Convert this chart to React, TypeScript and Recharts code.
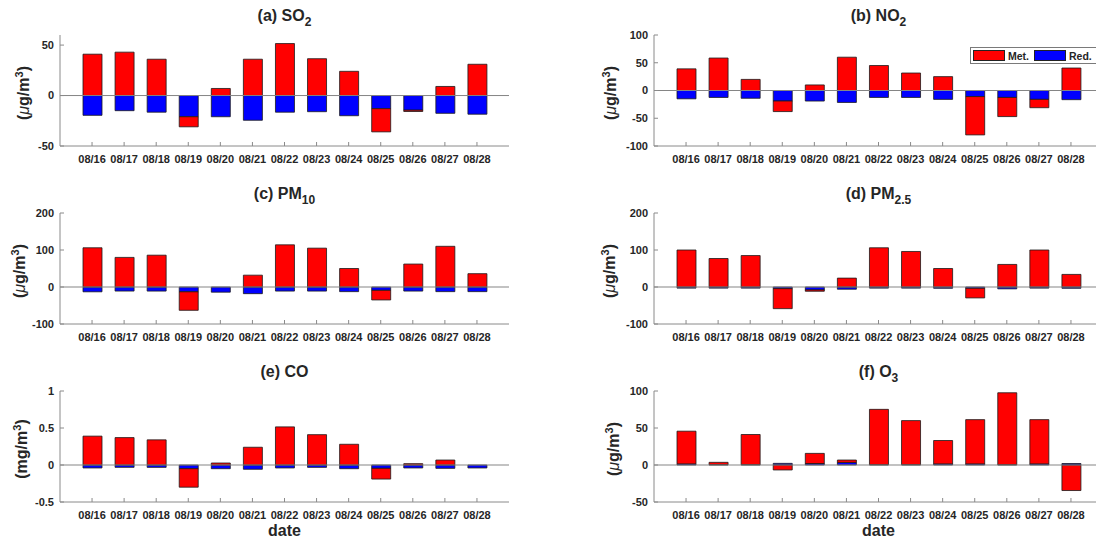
import React from 'react';
import { BarChart, Bar, XAxis, YAxis, ReferenceLine } from 'recharts';

const dates = ['08/16', '08/17', '08/18', '08/19', '08/20', '08/21', '08/22', '08/23', '08/24', '08/25', '08/26', '08/27', '08/28'];

// Met. = meteorology contribution, Red. = emission reduction contribution
const so2Met = [41, 43, 36, -10, 7, 36, 51.5, 36.5, 24, -23, -1.3, 9, 31];
const so2Red = [-19.6, -15, -16.5, -21, -21, -24.5, -16.5, -16, -20, -13, -14.5, -17.6, -18.5];

const no2Met = [39, 58.5, 20, -19, 10, 60, 45, 31.5, 25, -69, -34.5, -15, 40.5];
const no2Red = [-15, -12.5, -14, -19, -19, -21.5, -12.5, -12.5, -16, -11, -12.5, -16, -16.5];

const pm10Met = [106, 80, 86, -50, 0, 32, 114, 105, 50, -26, 62, 110, 36];
const pm10Red = [-13, -11, -11, -13, -14, -18, -11, -11, -12.5, -9, -11, -12.5, -12.5];

const pm25Met = [100, 77, 85, -54, -3.5, 24, 106, 96, 50, -26, 61, 100, 34];
const pm25Red = [-3, -3, -3, -4.5, -8, -6, -3, -3, -3.5, -3.5, -5, -3, -3.5];

const coMet = [0.39, 0.37, 0.34, -0.25, 0.027, 0.24, 0.515, 0.41, 0.28, -0.145, 0.018, 0.067, 0];
const coRed = [-0.04, -0.032, -0.032, -0.05, -0.05, -0.058, -0.04, -0.032, -0.05, -0.045, -0.04, -0.045, -0.04];

const o3Met = [44.2, 3.1, 40.7, -6.7, 13.7, 3.2, 74.7, 59.5, 31.6, 59.8, 97.1, 59.8, -34.5];
const o3Red = [1.5, 0.5, 0.5, 2.2, 2, 3.5, 0.5, 0.5, 1.5, 1.5, 0.5, 1.5, 2];

const series = [
  { key: 'met', name: 'Met.', color: '#ff0000' },
  { key: 'red', name: 'Red.', color: '#0000ff' },
];

const FONT = '"Liberation Sans", Arial, Helvetica, sans-serif';
const AXIS = '#8a8a8a';
const TEXT = '#262626';

const PLOT_W = 449;
const PLOT_H = 111;
const Y_W = 60;
const TOP_PAD = 10;
const X_H = 30;
const RIGHT_PAD = 20;

const COL_X = [0, 594];
const ROW_Y = [35, 213, 391];

const panels = [
  { title: '(a) SO', sub: '2', unit: 'ug', met: so2Met, red: so2Red, domain: [-50, 60], ticks: [-50, 0, 50], col: 0, row: 0, labelX: 24 },
  { title: '(b) NO', sub: '2', unit: 'ug', met: no2Met, red: no2Red, domain: [-100, 100], ticks: [-100, -50, 0, 50, 100], col: 1, row: 0, labelX: 611, legend: true },
  { title: '(c) PM', sub: '10', unit: 'ug', met: pm10Met, red: pm10Red, domain: [-100, 200], ticks: [-100, 0, 100, 200], col: 0, row: 1, labelX: 20 },
  { title: '(d) PM', sub: '2.5', unit: 'ug', met: pm25Met, red: pm25Red, domain: [-100, 200], ticks: [-100, 0, 100, 200], col: 1, row: 1, labelX: 610 },
  { title: '(e) CO', sub: '', unit: 'mg', met: coMet, red: coRed, domain: [-0.5, 1], ticks: [-0.5, 0, 0.5, 1], col: 0, row: 2, labelX: 22, date: true },
  { title: '(f) O', sub: '3', unit: 'ug', met: o3Met, red: o3Red, domain: [-50, 100], ticks: [-50, 0, 50, 100], col: 1, row: 2, labelX: 614, date: true },
];

const tickFont = { fontFamily: FONT, fontSize: 11, fontWeight: 700, fill: TEXT };

function BottomTick(props: any) {
  const { x, y, payload } = props;
  return (
    <g>
      <line x1={x} x2={x} y1={y} y2={y - 4} stroke={AXIS} />
      <text x={x} y={y + 17} textAnchor="middle" {...tickFont}>{payload.value}</text>
    </g>
  );
}

function TopTick(props: any) {
  const { x, y } = props;
  return <line x1={x} x2={x} y1={y} y2={y + 4} stroke={AXIS} />;
}

function LeftTick(props: any) {
  const { x, y, payload } = props;
  return (
    <g>
      <line x1={x} x2={x + 4} y1={y} y2={y} stroke={AXIS} />
      <text x={x - 6} y={y} dy="0.35em" textAnchor="end" {...tickFont}>{String(payload.value)}</text>
    </g>
  );
}

function RightTick(props: any) {
  const { x, y } = props;
  return <line x1={x} x2={x - 4} y1={y} y2={y} stroke={AXIS} />;
}

function PollutantChart({ met, red, domain, ticks }: any) {
  const data = dates.map((d, i) => ({ date: d, met: met[i], red: red[i] }));
  return (
    <BarChart
      width={Y_W + PLOT_W + RIGHT_PAD}
      height={TOP_PAD + PLOT_H + X_H}
      data={data}
      stackOffset="sign"
      barSize={19}
      margin={{ top: TOP_PAD, right: RIGHT_PAD, bottom: 0, left: 0 }}
    >
      <XAxis xAxisId="b" dataKey="date" interval={0} padding={{ left: 16, right: 16 }} height={X_H}
        tickSize={0} tickMargin={0} tickLine={false} axisLine={{ stroke: AXIS }} tick={BottomTick} />
      <XAxis xAxisId="t" orientation="top" dataKey="date" interval={0} padding={{ left: 16, right: 16 }} height={0}
        tickSize={0} tickMargin={0} tickLine={false} axisLine={{ stroke: AXIS }} tick={TopTick} />
      <YAxis yAxisId="l" type="number" domain={domain} ticks={ticks} allowDataOverflow width={Y_W}
        tickSize={0} tickMargin={0} tickLine={false} axisLine={{ stroke: AXIS }} tick={LeftTick} />
      <YAxis yAxisId="r" orientation="right" type="number" domain={domain} ticks={ticks} allowDataOverflow width={0}
        tickSize={0} tickMargin={0} tickLine={false} axisLine={{ stroke: AXIS }} tick={RightTick} />
      <ReferenceLine xAxisId="b" yAxisId="l" y={0} stroke="#858585" strokeWidth={1} />
      {/* reduction first so it sits next to zero in the stack */}
      <Bar xAxisId="b" yAxisId="l" dataKey="red" name="Red." stackId="s" fill="#0000ff" stroke="#1a1a1a" strokeWidth={0.8} isAnimationActive={false} />
      <Bar xAxisId="b" yAxisId="l" dataKey="met" name="Met." stackId="s" fill="#ff0000" stroke="#1a1a1a" strokeWidth={0.8} isAnimationActive={false} />
    </BarChart>
  );
}

export default function App() {
  return (
    <div style={{ position: 'absolute', left: 0, top: 0, width: 1096, height: 540, overflow: 'hidden', background: '#fff', fontFamily: FONT, color: TEXT }}>
      {panels.map((p) => {
        const boxTop = ROW_Y[p.row];
        const plotLeft = COL_X[p.col] + Y_W;
        const cx = plotLeft + PLOT_W / 2;
        return (
          <React.Fragment key={p.title}>
            <div style={{ position: 'absolute', left: COL_X[p.col], top: boxTop - TOP_PAD }}>
              <PollutantChart met={p.met} red={p.red} domain={p.domain} ticks={p.ticks} />
            </div>
            <div style={{ position: 'absolute', left: cx - 100, top: boxTop - 30, width: 200, height: 22, lineHeight: '22px', textAlign: 'center', fontSize: 16, fontWeight: 700, whiteSpace: 'nowrap' }}>
              {p.title}
              {p.sub && <span style={{ fontSize: 12, position: 'relative', top: 5 }}>{p.sub}</span>}
            </div>
            <div style={{ position: 'absolute', left: p.labelX - 40, top: boxTop + PLOT_H / 2 + 2 - 10, width: 80, height: 20, lineHeight: '20px', textAlign: 'center', fontSize: 16, fontWeight: 700, whiteSpace: 'nowrap', transform: 'rotate(-90deg)' }}>
              ({p.unit === 'ug' ? <span style={{ fontWeight: 400, fontStyle: 'italic' }}>μ</span> : 'm'}g/m<span style={{ fontSize: 11, position: 'relative', top: -6 }}>3</span>)
            </div>
            {p.date && (
              <div style={{ position: 'absolute', left: cx - 50, top: 521, width: 100, height: 20, lineHeight: '20px', textAlign: 'center', fontSize: 16, fontWeight: 700 }}>date</div>
            )}
            {p.legend && (
              <div style={{ position: 'absolute', left: 970, top: 47, width: 140, height: 17, border: '1px solid #7a7a7a', background: '#fff', display: 'flex', alignItems: 'center', paddingLeft: 2, boxSizing: 'border-box' }}>
                {series.map((s) => (
                  <React.Fragment key={s.key}>
                    <span style={{ display: 'inline-block', width: 32, height: 11, background: s.color, border: '1px solid #222', boxSizing: 'border-box', marginRight: 3 }} />
                    <span style={{ fontSize: 10.5, fontWeight: 700, marginRight: 5 }}>{s.name}</span>
                  </React.Fragment>
                ))}
              </div>
            )}
          </React.Fragment>
        );
      })}
    </div>
  );
}
